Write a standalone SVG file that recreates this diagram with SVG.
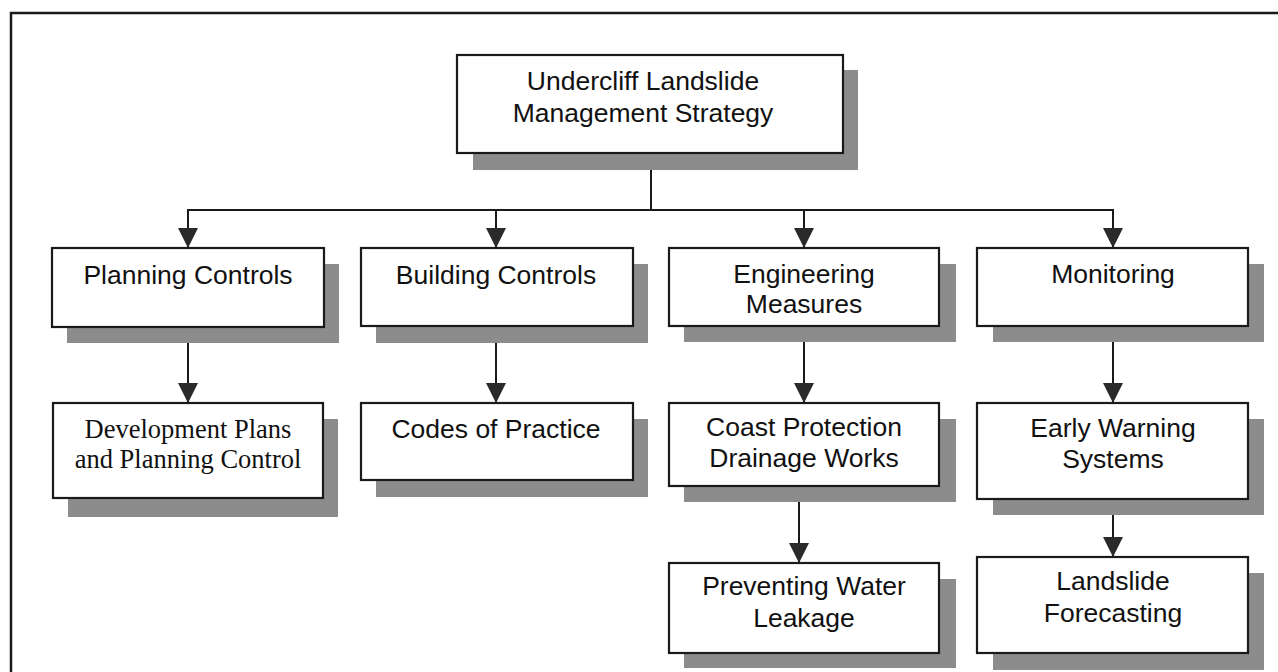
<svg xmlns="http://www.w3.org/2000/svg" width="1278" height="672" viewBox="0 0 1278 672">
  <style>
    .shadow { fill: #8c8c8c; }
    .box { fill: #ffffff; stroke: #1a1a1a; stroke-width: 2.2; }
    .label { font-family: "Liberation Sans", Arial, sans-serif; font-size: 26.5px; fill: #111; text-anchor: middle; }
    .serif { font-family: "Liberation Serif", "Times New Roman", serif; font-size: 26.5px; fill: #111; text-anchor: middle; }
    .line { fill: none; stroke: #1a1a1a; stroke-width: 2; }
  </style>
  <defs>
    <!-- filled triangular arrowhead pointing along the line direction -->
    <marker id="arrow" markerUnits="userSpaceOnUse" markerWidth="22" markerHeight="22" viewBox="0 0 22 22" refX="21" refY="11" orient="auto">
      <path d="M1,1 L21,11 L1,21 Z" fill="#2a2a2a"/>
    </marker>
  </defs>

  <rect width="1278" height="672" fill="#ffffff"/>
  <!-- outer frame -->
  <path d="M11,680 V13 H1290" fill="none" stroke="#1a1a1a" stroke-width="2.5"/>

  <!-- connectors -->
  <g id="connectors">
    <line class="line" x1="651" y1="168" x2="651" y2="210"/>
    <line class="line" x1="187" y1="210" x2="1114" y2="210"/>
    <line class="line" x1="188" y1="210" x2="188" y2="248" marker-end="url(#arrow)"/>
    <line class="line" x1="496" y1="210" x2="496" y2="248" marker-end="url(#arrow)"/>
    <line class="line" x1="804" y1="210" x2="804" y2="248" marker-end="url(#arrow)"/>
    <line class="line" x1="1113" y1="210" x2="1113" y2="248" marker-end="url(#arrow)"/>
    <line class="line" x1="188" y1="343" x2="188" y2="403" marker-end="url(#arrow)"/>
    <line class="line" x1="496" y1="343" x2="496" y2="403" marker-end="url(#arrow)"/>
    <line class="line" x1="804" y1="342" x2="804" y2="403" marker-end="url(#arrow)"/>
    <line class="line" x1="1113" y1="342" x2="1113" y2="403" marker-end="url(#arrow)"/>
    <line class="line" x1="799" y1="486" x2="799" y2="563" marker-end="url(#arrow)"/>
    <line class="line" x1="1113" y1="499" x2="1113" y2="557" marker-end="url(#arrow)"/>
  </g>

  <!-- root -->
  <g id="strategy">
    <rect class="shadow" x="473" y="70" width="385" height="100"/>
    <rect class="box" x="457" y="55" width="386" height="98"/>
    <text class="label" x="643" y="90">Undercliff Landslide</text>
    <text class="label" x="643" y="122">Management Strategy</text>
  </g>

  <!-- second level -->
  <g id="planning-controls">
    <rect class="shadow" x="67" y="264" width="272" height="79"/>
    <rect class="box" x="52" y="248" width="272" height="79"/>
    <text class="label" x="188" y="284">Planning Controls</text>
  </g>
  <g id="building-controls">
    <rect class="shadow" x="376" y="264" width="272" height="79"/>
    <rect class="box" x="361" y="248" width="272" height="78"/>
    <text class="label" x="496" y="284">Building Controls</text>
  </g>
  <g id="engineering-measures">
    <rect class="shadow" x="684" y="264" width="272" height="78"/>
    <rect class="box" x="669" y="248" width="270" height="78"/>
    <text class="label" x="804" y="283">Engineering</text>
    <text class="label" x="804" y="313">Measures</text>
  </g>
  <g id="monitoring">
    <rect class="shadow" x="993" y="264" width="271" height="78"/>
    <rect class="box" x="977" y="248" width="271" height="78"/>
    <text class="label" x="1113" y="283">Monitoring</text>
  </g>

  <!-- third level -->
  <g id="development-plans">
    <rect class="shadow" x="68" y="419" width="270" height="98"/>
    <rect class="box" x="53" y="403" width="270" height="95"/>
    <text class="serif" x="188" y="438">Development Plans</text>
    <text class="serif" x="188" y="468">and Planning Control</text>
  </g>
  <g id="codes-of-practice">
    <rect class="shadow" x="376" y="419" width="272" height="78"/>
    <rect class="box" x="361" y="403" width="272" height="77"/>
    <text class="label" x="496" y="438">Codes of Practice</text>
  </g>
  <g id="coast-protection">
    <rect class="shadow" x="684" y="419" width="272" height="83"/>
    <rect class="box" x="669" y="403" width="270" height="83"/>
    <text class="label" x="804" y="436">Coast Protection</text>
    <text class="label" x="804" y="467">Drainage Works</text>
  </g>
  <g id="early-warning">
    <rect class="shadow" x="993" y="419" width="271" height="96"/>
    <rect class="box" x="977" y="403" width="271" height="96"/>
    <text class="label" x="1113" y="437">Early Warning</text>
    <text class="label" x="1113" y="468">Systems</text>
  </g>

  <!-- fourth level -->
  <g id="preventing-leakage">
    <rect class="shadow" x="684" y="579" width="272" height="89"/>
    <rect class="box" x="669" y="563" width="270" height="90"/>
    <text class="label" x="804" y="595">Preventing Water</text>
    <text class="label" x="804" y="627">Leakage</text>
  </g>
  <g id="landslide-forecasting">
    <rect class="shadow" x="993" y="573" width="271" height="97"/>
    <rect class="box" x="977" y="557" width="271" height="96"/>
    <text class="label" x="1113" y="590">Landslide</text>
    <text class="label" x="1113" y="622">Forecasting</text>
  </g>
</svg>
